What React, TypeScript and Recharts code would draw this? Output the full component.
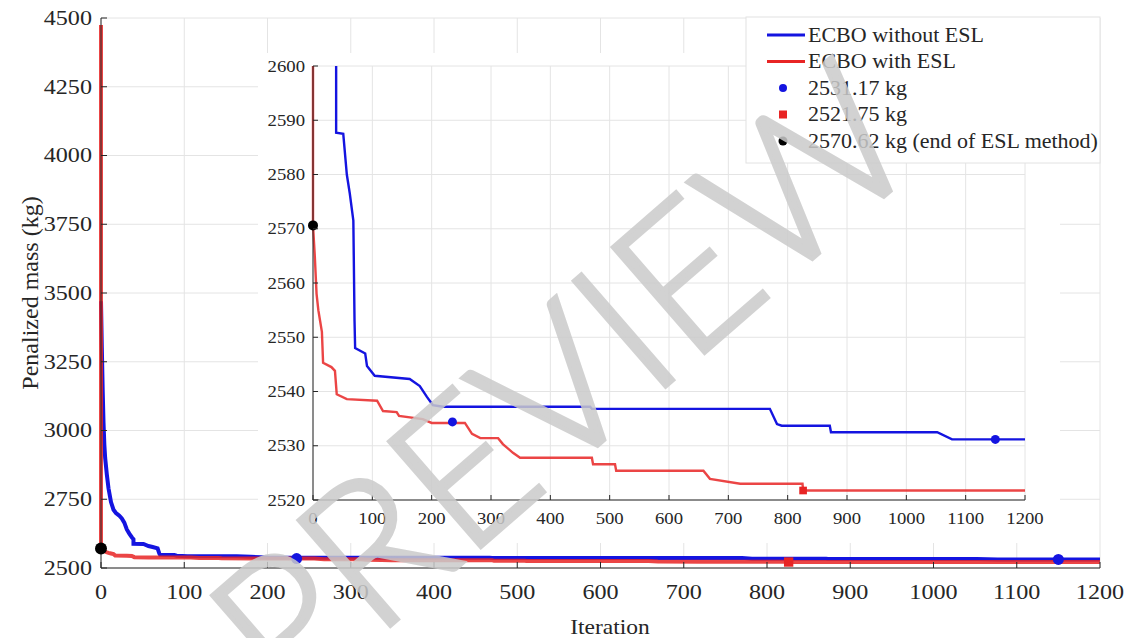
import React from "react";
import { CartesianGrid, ComposedChart, Line, Scatter, XAxis, YAxis } from "recharts";

// ECBO convergence history: iteration vs penalized mass (kg)
const withoutEslIter = [0, 1, 2, 3, 4, 5, 7, 9, 12, 15, 18, 22, 25, 28, 31, 34, 37, 39, 39, 51, 57, 62, 68, 70, 71, 88, 91, 104, 163, 180, 192, 202, 219, 467, 470, 770, 782, 790, 871, 873, 1052, 1077, 1200];
const withoutEslMass = [3470, 3300, 3150, 3030, 2950, 2900, 2840, 2790, 2740, 2712, 2700, 2690, 2680, 2665, 2640, 2625, 2612, 2605, 2587.7, 2587.5, 2580, 2576.5, 2571.5, 2553, 2548, 2547, 2544.7, 2542.9, 2542.3, 2541, 2539, 2537.5, 2537.2, 2537.2, 2536.8, 2536.8, 2534, 2533.7, 2533.7, 2532.5, 2532.5, 2531.17, 2531.17];

const withEslIter = [0, 0, 3, 6, 9, 12, 15, 17, 31, 37, 40, 57, 108, 118, 141, 145, 185, 200, 256, 268, 282, 312, 320, 337, 349, 470, 472, 509, 511, 658, 669, 720, 825, 826, 1200];
const withEslMass = [4475, 2570.62, 2565, 2558, 2555, 2553, 2551, 2545.3, 2544.5, 2543.8, 2539.5, 2538.6, 2538.3, 2536.4, 2536.2, 2535.5, 2534.9, 2534.2, 2534.2, 2532.2, 2531.4, 2531.4, 2530.3, 2528.7, 2527.8, 2527.8, 2526.6, 2526.6, 2525.4, 2525.4, 2523.9, 2523, 2523, 2521.75, 2521.75];

// highlighted points
const blueMarkIter = [235, 1150];
const blueMarkMass = [2534.4, 2531.17];
const redMarkIter = [826];
const redMarkMass = [2521.75];
const eslEndIter = [0];
const eslEndMass = [2570.62];

const iterTicks = [0, 100, 200, 300, 400, 500, 600, 700, 800, 900, 1000, 1100, 1200];
const mainMassTicks = [2500, 2750, 3000, 3250, 3500, 3750, 4000, 4250, 4500];
const insetMassTicks = [2520, 2530, 2540, 2550, 2560, 2570, 2580, 2590, 2600];

const legendLabels = ["ECBO without ESL", "ECBO with ESL", "2531.17 kg", "2521.75 kg", "2570.62 kg (end of ESL method)"];

const BLUE = "#1414e0";
const RED = "#e82424";
const INK = "#262626";
const GRID = "#e4e4e4";
const SERIF = "'Liberation Serif', 'Times New Roman', serif";

const toPoints = (xs: number[], ys: number[]) => xs.map((x, i) => ({ x, v: ys[i] }));
const steps = (step: number) => Array.from({ length: 1200 / step + 1 }, (_, i) => i * step);

const withoutEsl = toPoints(withoutEslIter, withoutEslMass);
const withEsl = toPoints(withEslIter, withEslMass);
const blueMarks = toPoints(blueMarkIter, blueMarkMass);
const redMarks = toPoints(redMarkIter, redMarkMass);
const eslEnd = toPoints(eslEndIter, eslEndMass);

type TickProps = { x?: number; y?: number; payload?: { value: number } };

function bottomTick(size: number, gap: number, fontSize: number, stretch: number, label: boolean) {
  return ({ x = 0, y = 0, payload }: TickProps) => (
    <g>
      <line x1={x} x2={x} y1={y} y2={y - size} stroke={INK} strokeWidth={1} />
      {label && (
        <text
          transform={`translate(${x},${y + gap}) scale(${stretch},1)`}
          textAnchor="middle"
          dominantBaseline="central"
          fontSize={fontSize}
          fill={INK}
          style={{ fontFamily: SERIF }}
        >
          {payload?.value}
        </text>
      )}
    </g>
  );
}

function leftTick(size: number, gap: number, fontSize: number, stretch: number) {
  return ({ x = 0, y = 0, payload }: TickProps) => (
    <g>
      <line x1={x} x2={x + size} y1={y} y2={y} stroke={INK} strokeWidth={1} />
      <text
        transform={`translate(${x - gap},${y}) scale(${stretch},1)`}
        textAnchor="end"
        dominantBaseline="central"
        fontSize={fontSize}
        fill={INK}
        style={{ fontFamily: SERIF }}
      >
        {payload?.value}
      </text>
    </g>
  );
}

const dot = (r: number, fill: string) => (p: any) => <circle cx={p.cx} cy={p.cy} r={r} fill={fill} />;
const square = (s: number, fill: string) => (p: any) => (
  <rect x={p.cx - s / 2} y={p.cy - s / 2} width={s} height={s} fill={fill} />
);

function Series({ width, mark }: { width: number; mark: number }) {
  return (
    <>
      <Line data={withoutEsl} dataKey="v" type="linear" stroke={BLUE} strokeWidth={width} dot={false} isAnimationActive={false} />
      <Line data={withEsl} dataKey="v" type="linear" stroke={RED} strokeOpacity={0.85} strokeWidth={width} dot={false} isAnimationActive={false} />
      <Scatter data={blueMarks} dataKey="v" shape={dot(mark, BLUE)} isAnimationActive={false} />
      <Scatter data={redMarks} dataKey="v" shape={square(mark * 1.7, RED)} isAnimationActive={false} />
      <Scatter data={eslEnd} dataKey="v" shape={dot(mark + 0.5, "#000")} isAnimationActive={false} />
    </>
  );
}

function MainChart() {
  return (
    <ComposedChart width={1129} height={638} margin={{ top: 18, right: 29, bottom: 30, left: 41 }}>
      <CartesianGrid stroke={GRID} />
      <XAxis
        xAxisId="minor"
        type="number"
        domain={[0, 1200]}
        ticks={steps(20)}
        interval={0}
        height={0}
        axisLine={false}
        tickSize={0}
        tickMargin={0}
        tick={bottomTick(4, 0, 0, 1, false)}
      />
      <XAxis
        type="number"
        dataKey="x"
        domain={[0, 1200]}
        ticks={iterTicks}
        interval={0}
        height={40}
        tickSize={0}
        tickMargin={0}
        axisLine={{ stroke: INK }}
        tick={bottomTick(6, 24, 21, 1.15, true)}
      />
      <YAxis
        type="number"
        domain={[2500, 4500]}
        ticks={mainMassTicks}
        interval={0}
        width={60}
        tickSize={0}
        tickMargin={0}
        axisLine={{ stroke: INK }}
        tick={leftTick(6, 9, 21, 1.15)}
      />
      {Series({ width: 4, mark: 5.5 })}
    </ComposedChart>
  );
}

function InsetChart() {
  return (
    <ComposedChart width={802} height={490} margin={{ top: 13, right: 35, bottom: 13, left: 15 }}>
      <CartesianGrid stroke={GRID} />
      <XAxis
        xAxisId="minor"
        type="number"
        domain={[0, 1200]}
        ticks={steps(25)}
        interval={0}
        height={0}
        axisLine={false}
        tickSize={0}
        tickMargin={0}
        tick={bottomTick(4, 0, 0, 1, false)}
      />
      <XAxis
        type="number"
        dataKey="x"
        domain={[0, 1200]}
        ticks={iterTicks}
        interval={0}
        height={30}
        tickSize={0}
        tickMargin={0}
        axisLine={{ stroke: INK }}
        tick={bottomTick(5, 18, 17, 1.1, true)}
      />
      <YAxis
        type="number"
        domain={[2520, 2600]}
        allowDataOverflow
        ticks={insetMassTicks}
        interval={0}
        width={40}
        tickSize={0}
        tickMargin={0}
        axisLine={{ stroke: INK }}
        tick={leftTick(5, 8, 17, 1.1)}
      />
      {Series({ width: 2.4, mark: 4.5 })}
    </ComposedChart>
  );
}

function Overlay() {
  const rowY = [35, 61.5, 88, 114.5, 141];
  return (
    <svg width={1129} height={638} style={{ position: "absolute", left: 0, top: 0, pointerEvents: "none" }}>
      <text
        transform="translate(30,293) rotate(-90)"
        textAnchor="middle"
        dominantBaseline="central"
        fontSize={24}
        fill={INK}
        style={{ fontFamily: SERIF }}
      >
        Penalized mass (kg)
      </text>
      <text
        transform="translate(610,627) scale(1.12,1)"
        textAnchor="middle"
        dominantBaseline="central"
        fontSize={21}
        fill={INK}
        style={{ fontFamily: SERIF }}
      >
        Iteration
      </text>

      <rect x={746} y={17} width={354} height={146} fill="#fff" stroke="#e2e2e2" />
      <line x1={767} x2={805} y1={rowY[0]} y2={rowY[0]} stroke={BLUE} strokeWidth={3} />
      <line x1={767} x2={805} y1={rowY[1]} y2={rowY[1]} stroke={RED} strokeWidth={3} />
      <circle cx={783} cy={rowY[2]} r={4} fill={BLUE} />
      <rect x={779} y={rowY[3] - 4} width={8} height={8} fill={RED} />
      <circle cx={783} cy={rowY[4]} r={4.5} fill="#000" />
      {legendLabels.map((label, i) => (
        <text
          key={label}
          transform={`translate(808,${rowY[i]}) scale(1.1,1)`}
          dominantBaseline="central"
          fontSize={20}
          fill={INK}
          style={{ fontFamily: SERIF }}
        >
          {label}
        </text>
      ))}

      <text
        transform="translate(562,384) rotate(-41)"
        textAnchor="middle"
        y={70}
        fontSize={198}
        fontWeight={300}
        fill="#cbcbcb"
        stroke="#cbcbcb"
        strokeWidth={4}
        strokeLinejoin="miter"
        opacity={0.85}
        style={{ fontFamily: "Lato, 'Open Sans', sans-serif" }}
      >
        PREVIEW
      </text>
    </svg>
  );
}

export default function App() {
  return (
    <div style={{ position: "absolute", left: 0, top: 0, width: 1129, height: 638, background: "#fff", overflow: "hidden" }}>
      <MainChart />
      <div style={{ position: "absolute", left: 258, top: 53, width: 802, height: 490, background: "#fff" }}>
        <InsetChart />
      </div>
      <Overlay />
    </div>
  );
}
